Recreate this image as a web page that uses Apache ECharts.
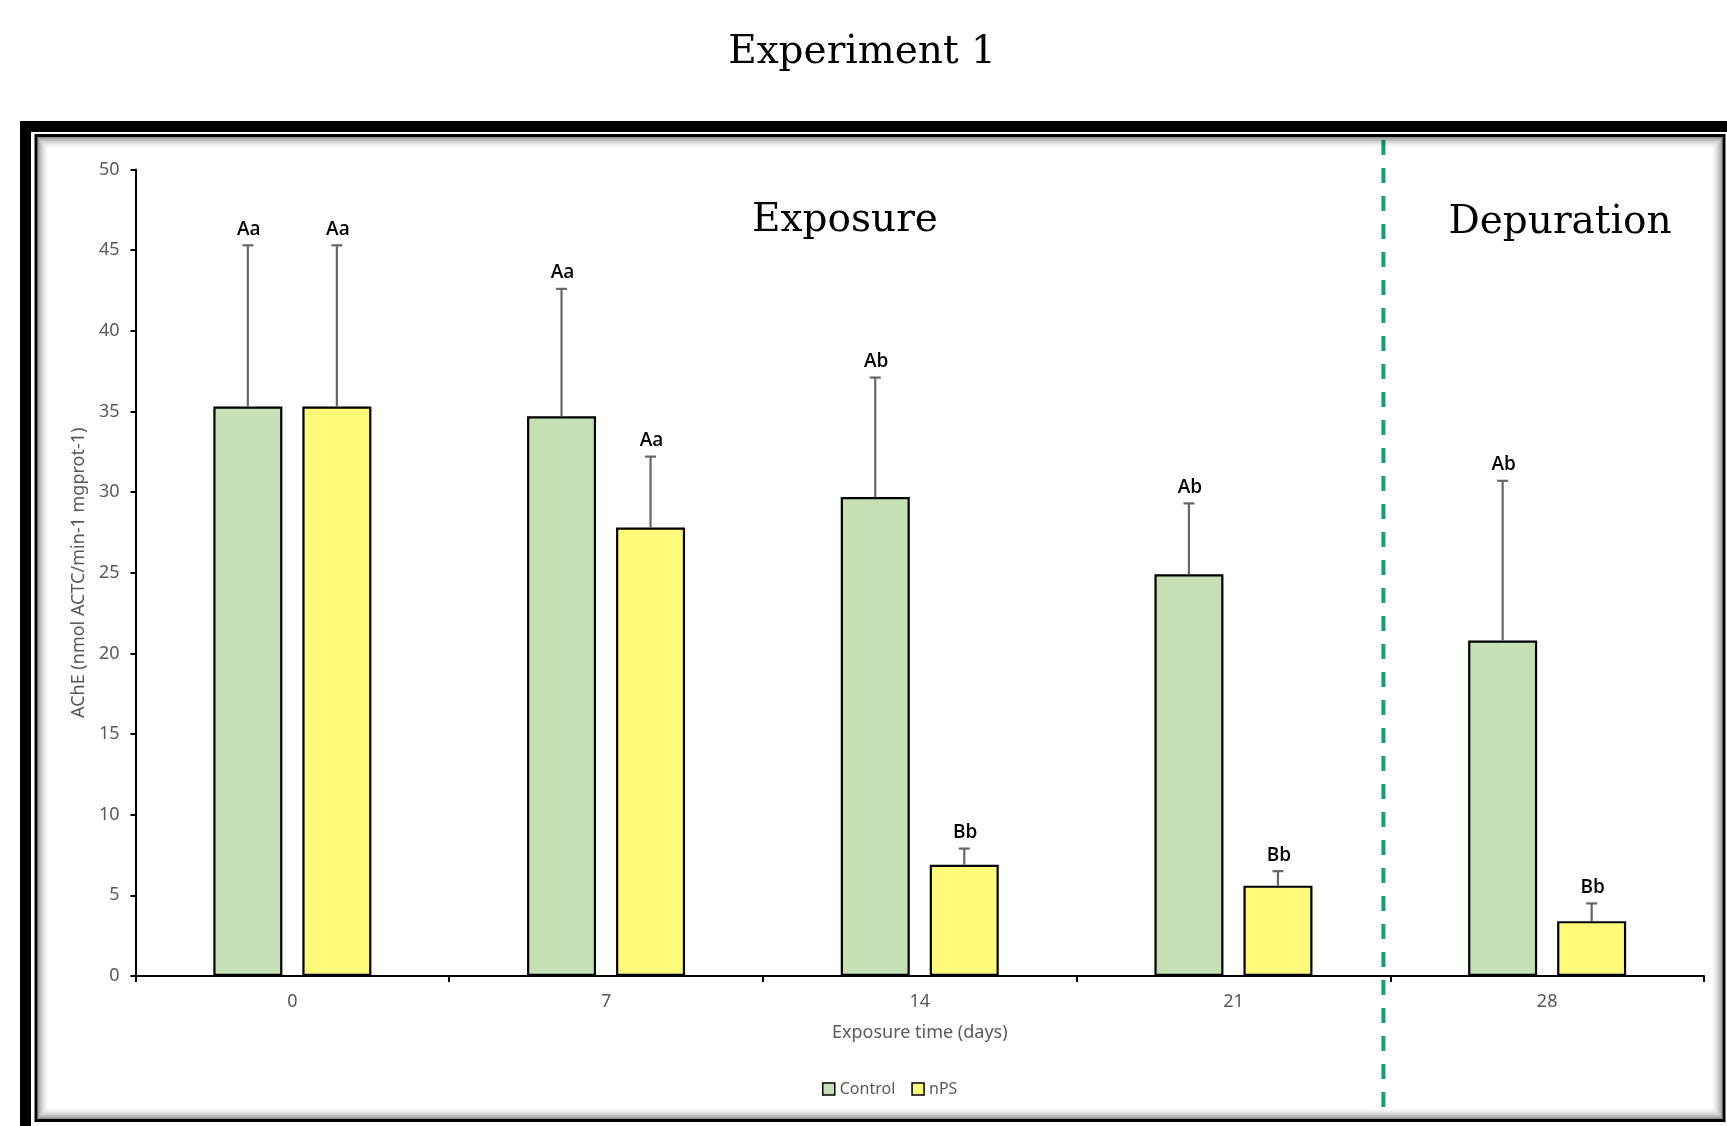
<!DOCTYPE html>
<html>
<head>
<meta charset="utf-8">
<title>Experiment 1 – AChE activity</title>
<script src="https://cdn.jsdelivr.net/npm/echarts@6/dist/echarts.min.js"></script>
<style>
  html, body { margin: 0; padding: 0; background: #fff; }
  #chart { width: 1727px; height: 1126px; }
</style>
</head>
<body>
<div id="chart"></div>
<script>
// Sampling days (days of exposure)
const categories = ['0', '7', '14', '21', '28'];

// AChE activity, mean and error (nmol ACTC/min-1 mgprot-1)
const controlMean = [35.3, 34.7, 29.7, 24.9, 20.8];
const controlErr  = [10.0, 7.9, 7.4, 4.4, 9.9];
const npsMean     = [35.3, 27.8, 6.9, 5.6, 3.4];
const npsErr      = [10.0, 4.4, 1.0, 0.9, 1.1];

// Significance letters above each bar
const controlLetters = ['Aa', 'Aa', 'Ab', 'Ab', 'Ab'];
const npsLetters     = ['Aa', 'Aa', 'Bb', 'Bb', 'Bb'];

// Y axis ticks
const yTicks = { min: 0, max: 50, interval: 5 };

const BAR_W = 69;
const BAR_GAP = 0.29;
const HALF_STEP = BAR_W * (1 + BAR_GAP) / 2;

const GREY = '#595959';
const SANS = "'Noto Sans', 'Open Sans', sans-serif";
const SERIF = "'DejaVu Serif', 'Liberation Serif', serif";

function errorSeries(name, means, errs, letters, side) {
  return {
    name: name + ' error',
    type: 'custom',
    z: 3,
    silent: true,
    encode: { x: 0, y: 1 },
    data: means.map((m, i) => [i, m, errs[i]]),
    renderItem(params, api) {
      const i = api.value(0);
      const m = api.value(1);
      const e = api.value(2);
      const base = api.coord([i, m]);
      const top = api.coord([i, m + e]);
      const x = base[0] + side * HALF_STEP;
      const lineStyle = { stroke: '#666666', lineWidth: 2.2 };
      return {
        type: 'group',
        children: [
          { type: 'line', shape: { x1: x, y1: base[1], x2: x, y2: top[1] }, style: lineStyle },
          { type: 'line', shape: { x1: x - 5.5, y1: top[1], x2: x + 5.5, y2: top[1] }, style: lineStyle },
          {
            type: 'text',
            style: {
              x: x + 1, y: top[1] - 16,
              text: letters[params.dataIndex],
              fill: '#000', font: "600 19px 'Open Sans', sans-serif",
              align: 'center', verticalAlign: 'middle'
            }
          }
        ]
      };
    }
  };
}

// Inset shadow along the inner frame
const FRAME = { x: 36, y: 135.5, w: 1688, h: 985 };
const shadowRings = [];
for (let i = 1; i <= 12; i++) {
  const a = 0.5 * Math.pow(1 - i / 13, 2);
  shadowRings.push({
    type: 'rect',
    silent: true,
    z: 99,
    shape: { x: FRAME.x + 1 + i, y: FRAME.y + 1 + i, width: FRAME.w - 2 - 2 * i, height: FRAME.h - 2 - 2 * i },
    style: { fill: null, stroke: 'rgba(0,0,0,' + a.toFixed(3) + ')', lineWidth: 1 }
  });
}

const chart = echarts.init(document.getElementById('chart'), null, { renderer: 'canvas' });

chart.setOption({
  animation: false,
  backgroundColor: '#ffffff',
  grid: { left: 135.5, right: 23, top: 169.5, bottom: 150, containLabel: false },
  legend: {
    data: ['Control', 'nPS'],
    left: 817,
    top: 1076,
    icon: 'rect',
    itemWidth: 12,
    itemHeight: 12,
    itemGap: 16,
    itemStyle: { borderColor: '#000', borderWidth: 1.5 },
    textStyle: { color: GREY, fontFamily: SANS, fontSize: 16 }
  },
  xAxis: {
    type: 'category',
    data: categories,
    boundaryGap: true,
    name: 'Exposure time (days)',
    nameLocation: 'middle',
    nameGap: 48,
    nameTextStyle: { color: GREY, fontFamily: SANS, fontSize: 18 },
    axisLine: { lineStyle: { color: '#000', width: 2 } },
    axisTick: { show: true, length: 6, interval: 0, lineStyle: { color: '#000', width: 2 } },
    axisLabel: { color: GREY, fontFamily: SANS, fontSize: 18, margin: 17 },
    splitLine: { show: false }
  },
  yAxis: {
    type: 'value',
    min: yTicks.min,
    max: yTicks.max,
    interval: yTicks.interval,
    name: 'AChE (nmol ACTC/min-1 mgprot-1)',
    nameLocation: 'middle',
    nameGap: 44,
    nameRotate: 90,
    nameTextStyle: { color: GREY, fontFamily: SANS, fontSize: 18 },
    axisLine: { show: true, lineStyle: { color: '#000', width: 2 } },
    axisTick: { show: true, length: 5, lineStyle: { color: '#000', width: 2 } },
    axisLabel: { color: GREY, fontFamily: SANS, fontSize: 18, margin: 16 },
    splitLine: { show: false }
  },
  series: [
    {
      name: 'Control',
      type: 'bar',
      data: controlMean,
      barWidth: BAR_W,
      barGap: (BAR_GAP * 100) + '%',
      itemStyle: { color: '#c5e0b4', borderColor: '#000', borderWidth: 2.2 }
    },
    {
      name: 'nPS',
      type: 'bar',
      data: npsMean,
      barWidth: BAR_W,
      barGap: (BAR_GAP * 100) + '%',
      itemStyle: { color: '#fffa7a', borderColor: '#000', borderWidth: 2.2 }
    },
    errorSeries('Control', controlMean, controlErr, controlLetters, -1),
    errorSeries('nPS', npsMean, npsErr, npsLetters, 1)
  ],
  graphic: {
    elements: [
      // heavy outer border
      {
        type: 'rect', silent: true, z: 100,
        shape: { x: 25.5, y: 126.5, width: 1800, height: 1100 },
        style: { fill: null, stroke: '#000', lineWidth: 11 }
      },
      // thin inner border
      {
        type: 'rect', silent: true, z: 100,
        shape: { x: FRAME.x, y: FRAME.y, width: FRAME.w, height: FRAME.h },
        style: { fill: null, stroke: '#000', lineWidth: 3 }
      },
      ...shadowRings,
      // exposure / depuration divider
      {
        type: 'line', silent: true, z: 50,
        shape: { x1: 1383.4, y1: 140, x2: 1383.4, y2: 1120 },
        style: { stroke: '#1b9e77', lineWidth: 4, lineDash: [15, 13] }
      },
      {
        type: 'text', silent: true, z: 50,
        style: {
          x: 862, y: 53, text: 'Experiment 1',
          font: '39px ' + SERIF, fill: '#000',
          align: 'center', verticalAlign: 'middle'
        }
      },
      {
        type: 'text', silent: true, z: 50,
        style: {
          x: 845, y: 221, text: 'Exposure',
          font: '39px ' + SERIF, fill: '#000',
          align: 'center', verticalAlign: 'middle'
        }
      },
      {
        type: 'text', silent: true, z: 50,
        style: {
          x: 1560, y: 223, text: 'Depuration',
          font: '39px ' + SERIF, fill: '#000',
          align: 'center', verticalAlign: 'middle'
        }
      }
    ]
  }
});
</script>
</body>
</html>
